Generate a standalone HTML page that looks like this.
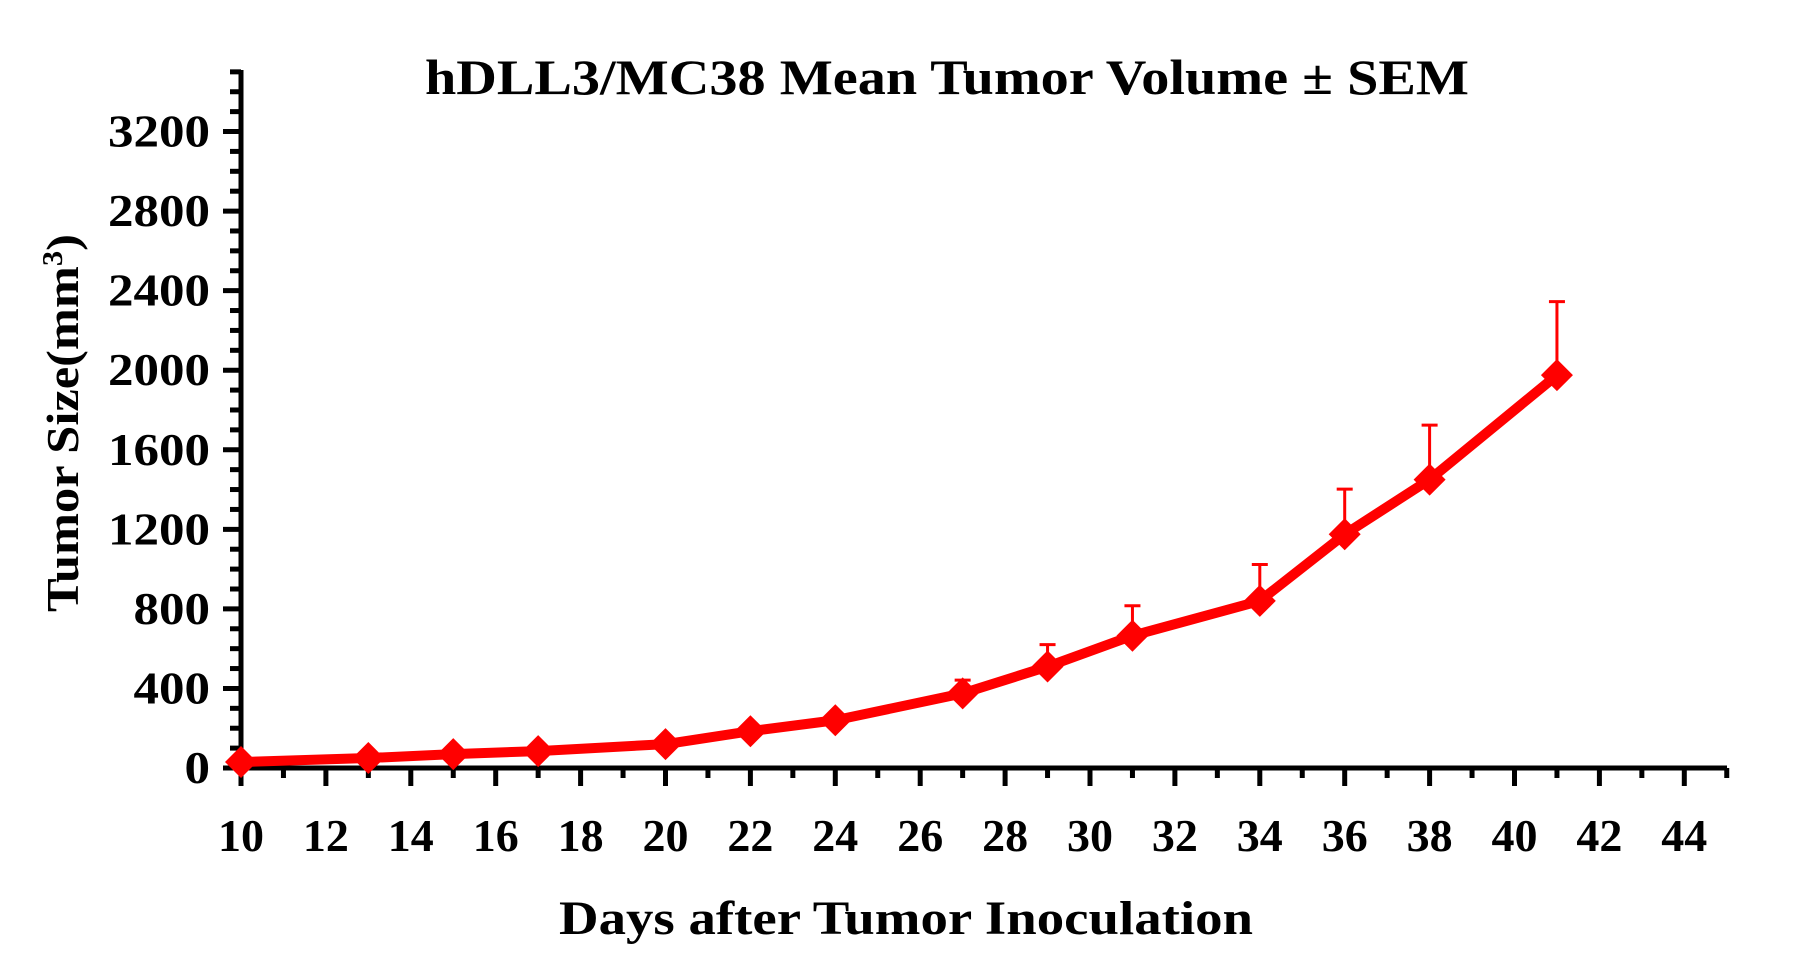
<!DOCTYPE html>
<html><head><style>html,body{margin:0;padding:0;background:#fff}svg{display:block}</style></head>
<body>
<svg width="1793" height="961" viewBox="0 0 1793 961" xmlns="http://www.w3.org/2000/svg" font-family="'Liberation Serif', serif" font-weight="bold">
<rect width="1793" height="961" fill="#fff"/>
<text x="425" y="94" font-size="50" textLength="1044" lengthAdjust="spacingAndGlyphs">hDLL3/MC38 Mean Tumor Volume ± SEM</text>
<g id="axes" stroke="#000" stroke-width="5" fill="none">
<line x1="241" y1="70" x2="241" y2="770"/>
<line x1="239" y1="768" x2="1727" y2="768"/>
</g>
<g stroke="#000" stroke-width="5" id="ticks"></g>
<g font-size="45" text-anchor="end" id="ylab"></g>
<g font-size="46" text-anchor="middle" id="xlab"></g>
<text font-size="46" text-anchor="middle" transform="translate(78,423) rotate(-90)" textLength="378" lengthAdjust="spacingAndGlyphs">Tumor Size(mm<tspan font-size="28" dy="-16">3</tspan><tspan dy="16">)</tspan></text>
<text x="906" y="934" font-size="48" text-anchor="middle" textLength="694" lengthAdjust="spacingAndGlyphs">Days after Tumor Inoculation</text>
<g id="data"></g>
</svg>
<script>
var ns="http://www.w3.org/2000/svg";
function el(p,t,a,txt){var e=document.createElementNS(ns,t);for(var k in a)e.setAttribute(k,a[k]);if(txt)e.textContent=txt;document.getElementById(p).appendChild(e);}
var y0=768,py=79.56/400,x0=241,px=84.9/2;
function X(d){return x0+(d-10)*px}function Y(v){return y0-v*py}
for(var v=0;v<=3500;v+=100){var y=Y(v),maj=v%400==0;el("ticks","line",{x1:241-(maj?18:11),x2:241,y1:y,y2:y});if(maj){var s=String(v);el("ylab","text",{x:210,y:y+15,textLength:s.length*25.5,lengthAdjust:"spacingAndGlyphs"},s);}}
for(var d=10;d<=45;d++){var x=X(d),maj=d%2==0;el("ticks","line",{x1:x,x2:x,y1:768,y2:768+(maj?18:10)});if(maj)el("xlab","text",{x:x,y:851,textLength:46,lengthAdjust:"spacingAndGlyphs"},String(d));}
var D=[[10,30,0],[13,50,0],[15,70,0],[17,85,0],[20,120,0],[22,185,0],[24,240,0],[27,375,442],[29,510,620],[31,665,816],[34,840,1023],[36,1175,1402],[38,1450,1724],[41,1975,2345]];
D.forEach(function(p){if(p[2]){var x=X(p[0]);el("data","line",{x1:x,x2:x,y1:Y(p[1]),y2:Y(p[2]),stroke:"#f00","stroke-width":3});el("data","line",{x1:x-8,x2:x+8,y1:Y(p[2]),y2:Y(p[2]),stroke:"#f00","stroke-width":3});}});
el("data","polyline",{points:D.map(function(p){return X(p[0])+","+Y(p[1])}).join(" "),fill:"none",stroke:"#f00","stroke-width":10,"stroke-linejoin":"round"});
D.forEach(function(p){var x=X(p[0]),y=Y(p[1]),r=16;el("data","polygon",{points:(x-r)+","+y+" "+x+","+(y-r)+" "+(x+r)+","+y+" "+x+","+(y+r),fill:"#f00"});});
</script>
</body></html>
